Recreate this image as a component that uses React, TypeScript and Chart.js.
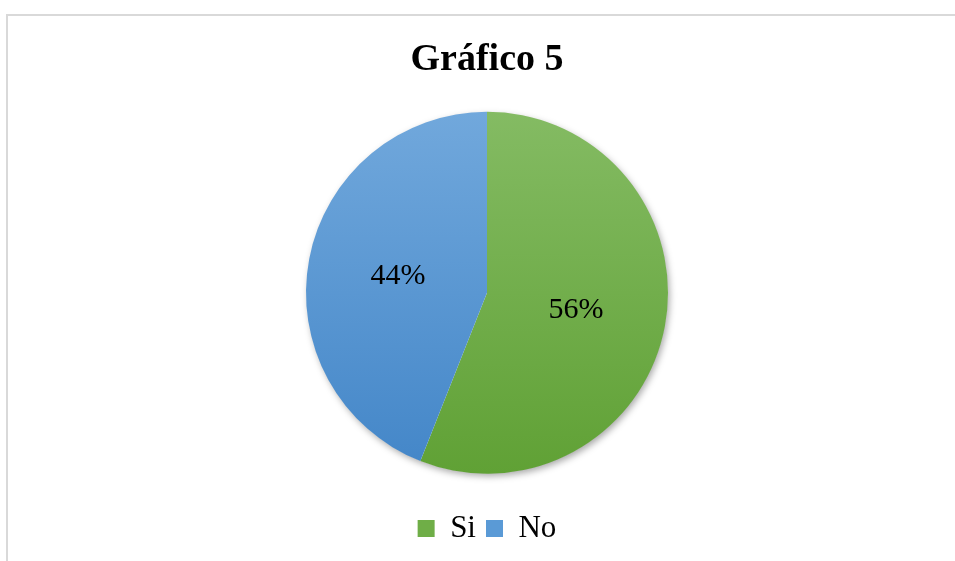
import React, { useEffect, useRef } from "react";
import { Chart, registerables } from "chart.js";

Chart.register(...registerables);

const categories = ["Si", "No"];
const values = [56, 44];
const percentLabels = ["56%", "44%"];
const titleText = "Gráfico 5";
const gradientTops = ["#84bb63", "#71a8dc"];
const gradientBottoms = ["#60a135", "#4386c8"];
const legendColors = ["#6fae47", "#5a9ad6"];

const SERIF = "'Liberation Serif', 'Times New Roman', serif";
const PIE_RADIUS = 181;

const shadowPlugin = {
  id: "pieShadow",
  beforeDatasetsDraw(chart: any) {
    const arc = chart.getDatasetMeta(0).data[0];
    if (!arc) return;
    const { x, y, outerRadius } = arc;
    const ctx = chart.ctx;
    ctx.save();
    ctx.shadowColor = "rgba(0,0,0,0.35)";
    ctx.shadowBlur = 7;
    ctx.shadowOffsetX = 2;
    ctx.shadowOffsetY = 3;
    ctx.beginPath();
    ctx.arc(x, y, outerRadius - 0.5, 0, Math.PI * 2);
    ctx.fillStyle = "#ffffff";
    ctx.fill();
    ctx.restore();
  },
};

const labelPlugin = {
  id: "pieLabels",
  afterDatasetsDraw(chart: any) {
    const meta = chart.getDatasetMeta(0);
    const ctx = chart.ctx;
    ctx.save();
    ctx.font = `30px ${SERIF}`;
    ctx.fillStyle = "#000000";
    ctx.textAlign = "center";
    ctx.textBaseline = "middle";
    meta.data.forEach((arc: any, i: number) => {
      const mid = (arc.startAngle + arc.endAngle) / 2;
      const r = arc.outerRadius * 0.5;
      ctx.fillText(percentLabels[i], arc.x + Math.cos(mid) * r, arc.y + Math.sin(mid) * r);
    });
    ctx.restore();
  },
};

export default function App() {
  const canvasRef = useRef<HTMLCanvasElement | null>(null);

  useEffect(() => {
    if (!canvasRef.current) return;
    const chart = new Chart(canvasRef.current, {
      type: "pie",
      data: {
        labels: categories,
        datasets: [
          {
            data: values,
            borderWidth: 0,
            backgroundColor: (c: any) => {
              const chart = c.chart;
              const i = c.dataIndex ?? 0;
              const area = chart.chartArea;
              if (!area) return legendColors[i];
              const cy = (area.top + area.bottom) / 2;
              const g = chart.ctx.createLinearGradient(0, cy - PIE_RADIUS, 0, cy + PIE_RADIUS);
              g.addColorStop(0, gradientTops[i]);
              g.addColorStop(1, gradientBottoms[i]);
              return g;
            },
          },
        ],
      },
      options: {
        animation: false,
        responsive: false,
        radius: PIE_RADIUS,
        layout: { padding: { left: 19, bottom: 7 } },
        plugins: {
          tooltip: { enabled: false },
          title: {
            display: true,
            text: titleText,
            color: "#000000",
            font: { family: SERIF, size: 38, weight: "bold" },
            padding: { top: 37, bottom: 0 },
          },
          legend: {
            position: "bottom",
            labels: {
              color: "#000000",
              font: { family: SERIF, size: 31 },
              boxWidth: 17,
              boxHeight: 17,
              padding: 10,
              generateLabels: () =>
                categories.map((t, i) => ({
                  text: t,
                  fillStyle: legendColors[i],
                  strokeStyle: legendColors[i],
                  lineWidth: 0,
                  hidden: false,
                  index: i,
                  datasetIndex: 0,
                })),
            },
          },
        },
      },
      plugins: [shadowPlugin, labelPlugin],
    });
    return () => chart.destroy();
  }, []);

  return (
    <div style={{ position: "fixed", left: 0, top: 0, width: 955, height: 561, background: "#ffffff", overflow: "hidden" }}>
      <div
        style={{
          position: "absolute",
          left: 6,
          top: 14,
          width: 1000,
          height: 600,
          borderLeft: "2px solid #d9d9d9",
          borderTop: "2px solid #d9d9d9",
        }}
      />
      <canvas ref={canvasRef} width={955} height={561} style={{ position: "absolute", left: 0, top: 0, width: 955, height: 561 }} />
    </div>
  );
}
